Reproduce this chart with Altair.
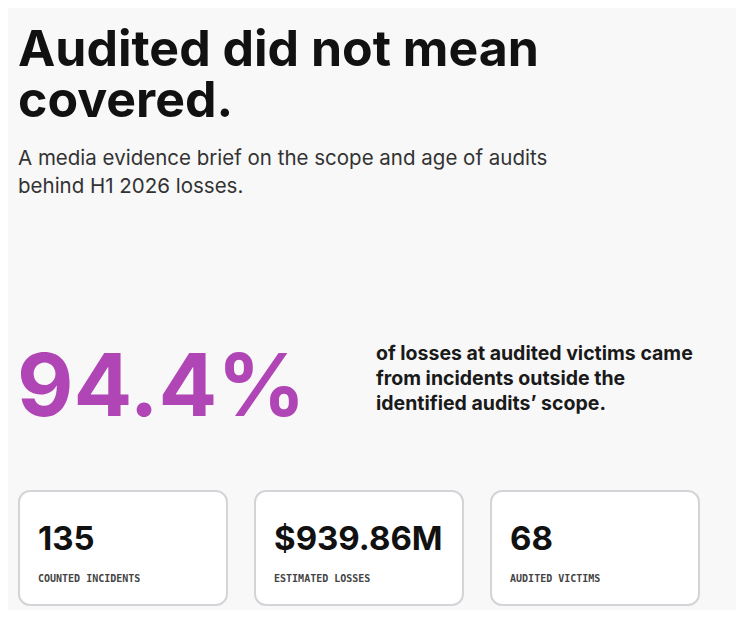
"""Audit coverage evidence brief: headline stat and three summary cards in Altair."""

import altair as alt
import pandas as pd

# --- content -------------------------------------------------------------
TITLE_LINES = ["Audited did not mean", "covered."]
SUBTITLE_LINES = [
    "A media evidence brief on the scope and age of audits",
    "behind H1 2026 losses.",
]
HEADLINE_VALUE = "94.4%"
HEADLINE_NOTE = [
    "of losses at audited victims came",
    "from incidents outside the",
    "identified audits\u2019 scope.",
]
CARD_VALUES = ["135", "$939.86M", "68"]
CARD_LABELS = ["COUNTED INCIDENTS", "ESTIMATED LOSSES", "AUDITED VICTIMS"]

# --- styling -------------------------------------------------------------
BG = "#f8f8f8"
PURPLE = "#b045b5"
INK = "#111111"
SANS = "Inter"
MONO = "DejaVu Sans Mono"
W, H = 728, 602


def text_layer(lines, x, y, size, color=INK, weight="normal", font=SANS, line_height=None):
    return (
        alt.Chart(pd.DataFrame({"t": [0]}))
        .mark_text(
            text=lines,
            align="left",
            baseline="alphabetic",
            font=font,
            fontSize=size,
            fontWeight=weight,
            color=color,
            lineHeight=line_height or size * 1.2,
        )
        .encode(x=alt.value(x), y=alt.value(y))
    )


cards = pd.DataFrame({"value": CARD_VALUES, "label": CARD_LABELS})
card_scale = alt.Scale(domain=CARD_LABELS, range=[11, 691], paddingInner=0.119, paddingOuter=0)
card_x = alt.X("label:N", sort=CARD_LABELS, scale=card_scale, axis=None)
card_x_start = alt.X("label:N", sort=CARD_LABELS, scale=card_scale, axis=None, bandPosition=0)

card_boxes = (
    alt.Chart(cards)
    .mark_rect(fill="white", stroke="#d4d4d8", strokeWidth=2, cornerRadius=11)
    .encode(x=card_x, y=alt.value(483), y2=alt.value(597))
)
card_values = (
    alt.Chart(cards)
    .mark_text(align="left", baseline="alphabetic", dx=19, font=SANS, fontSize=33,
               fontWeight="bold", color=INK)
    .encode(x=card_x_start, y=alt.value(542), text="value:N")
)
card_labels = (
    alt.Chart(cards)
    .mark_text(align="left", baseline="alphabetic", dx=19, font=MONO, fontSize=10,
               fontWeight="bold", color="#444444")
    .encode(x=card_x_start, y=alt.value(574), text="label:N")
)

chart = alt.layer(
    text_layer([TITLE_LINES[0]], 10, 58, 50, weight="bold"),
    text_layer([TITLE_LINES[1]], 10, 109, 50, weight="bold"),
    text_layer(SUBTITLE_LINES, 10, 157, 20.5, color="#333333", line_height=28),
    text_layer([HEADLINE_VALUE], 9, 408, 87, color=PURPLE, weight="bold"),
    text_layer(HEADLINE_NOTE, 368, 352, 19.5, color="#1a1a1a", weight="bold", line_height=25),
    card_boxes,
    card_values,
    card_labels,
).properties(
    width=W,
    height=H,
    padding=0,
    autosize=alt.AutoSizeParams(type="none"),
    background=BG,
).configure_view(stroke=None)

chart.save("out.html", embed_options={"renderer": "svg", "actions": False})
